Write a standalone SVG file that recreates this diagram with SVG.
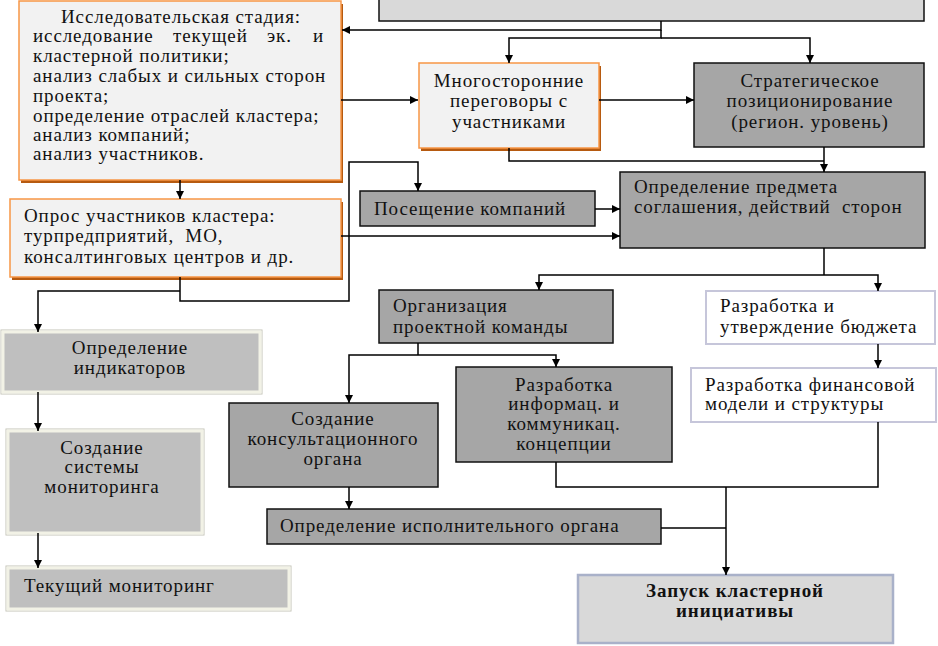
<svg xmlns="http://www.w3.org/2000/svg" width="938" height="646" viewBox="0 0 938 646">
<style>
text{font-family:"Liberation Serif","Times New Roman",serif;font-size:19px;letter-spacing:0.9px;fill:#111}
.c{text-anchor:middle}
.b{font-weight:bold}
.pre{white-space:pre}
.dark{fill:#a6a6a6;stroke:#111;stroke-width:1.5}
.orange{fill:#f2f2f2;stroke:#f79646;stroke-width:1.5}
.oshadow{fill:#b65a10}
.light{fill:#bfbfbf;stroke:#f2f2e6;stroke-width:3}
.lightout{fill:none;stroke:#c4c4b8;stroke-width:1}
.white{fill:#fff;stroke:#c6c6da;stroke-width:2}
.conn path{fill:none;stroke:#000;stroke-width:1.5}
</style>
<defs>
<marker id="ah" viewBox="0 0 10 10" refX="10" refY="5" markerWidth="8" markerHeight="8" markerUnits="userSpaceOnUse" orient="auto">
<path d="M0,0 L10,5 L0,10 z" fill="#000"/>
</marker>
</defs>
<rect width="938" height="646" fill="#fff"/>

<g id="top"><rect x="379" y="-5" width="545" height="26" fill="#d9d9d9" stroke="#111" stroke-width="1.5"/></g>

<g id="research">
<rect class="oshadow" x="21" y="4" width="322" height="179"/>
<rect class="orange" x="19" y="1" width="322" height="179"/>
<text class="c" x="181" y="23">Исследовательская стадия:</text>
<text y="42"><tspan x="33">исследование</tspan><tspan x="173">текущей</tspan><tspan x="267">эк.</tspan><tspan x="313">и</tspan></text>
<text x="33" y="62">кластерной политики;</text>
<text x="33" y="82">анализ слабых и сильных сторон</text>
<text x="33" y="102">проекта;</text>
<text x="33" y="122">определение отраслей кластера;</text>
<text x="33" y="141">анализ компаний;</text>
<text x="33" y="160">анализ участников.</text>
</g>

<g id="negotiations">
<rect class="oshadow" x="421" y="66" width="180" height="85"/>
<rect class="orange" x="419" y="63" width="180" height="85"/>
<text class="c" x="509" y="87">Многосторонние</text>
<text class="c" x="509" y="107">переговоры с</text>
<text class="c" x="509" y="128">участниками</text>
</g>

<g id="strategic">
<rect class="dark" x="694" y="63" width="230" height="84"/>
<text class="c" x="810" y="87">Стратегическое</text>
<text class="c" x="810" y="107">позиционирование</text>
<text class="c" x="810" y="128">(регион. уровень)</text>
</g>

<g id="survey">
<rect class="oshadow" x="12" y="202" width="331" height="78"/>
<rect class="orange" x="10" y="199" width="331" height="78"/>
<text x="24" y="222">Опрос участников кластера:</text>
<text class="pre" xml:space="preserve" x="24" y="242">турпредприятий,  МО,</text>
<text x="24" y="263">консалтинговых центров и др.</text>
</g>

<g id="visit">
<rect class="dark" x="360" y="191" width="235" height="35"/>
<text x="374" y="215">Посещение компаний</text>
</g>

<g id="subject">
<rect class="dark" x="620" y="172" width="305" height="76"/>
<text x="634" y="193">Определение предмета</text>
<text class="pre" xml:space="preserve" x="634" y="213">соглашения, действий  сторон</text>
</g>

<g id="team">
<rect class="dark" x="379" y="290" width="234" height="53"/>
<text x="393" y="312">Организация</text>
<text x="393" y="333">проектной команды</text>
</g>

<g id="budget">
<rect class="white" x="706" y="291" width="229" height="53"/>
<text x="720" y="312">Разработка и</text>
<text x="720" y="333">утверждение бюджета</text>
</g>

<g id="finmodel">
<rect class="white" x="691" y="368" width="245" height="54"/>
<text x="705" y="391">Разработка финансовой</text>
<text x="705" y="410">модели и структуры</text>
</g>

<g id="indicators">
<rect class="lightout" x="1" y="330" width="261" height="64"/>
<rect class="light" x="3" y="332" width="257" height="60"/>
<text class="c" x="130" y="354">Определение</text>
<text class="c" x="130" y="374">индикаторов</text>
</g>

<g id="monsystem">
<rect class="lightout" x="6" y="429" width="198" height="106"/>
<rect class="light" x="8" y="431" width="194" height="102"/>
<text class="c" x="102" y="454">Создание</text>
<text class="c" x="102" y="473">системы</text>
<text class="c" x="102" y="493">мониторинга</text>
</g>

<g id="current">
<rect class="lightout" x="6" y="566" width="285" height="45"/>
<rect class="light" x="8" y="568" width="281" height="41"/>
<text x="24" y="592">Текущий мониторинг</text>
</g>

<g id="consult">
<rect class="dark" x="229" y="403" width="209" height="84"/>
<text class="c" x="333" y="425">Создание</text>
<text class="c" x="333" y="445">консультационного</text>
<text class="c" x="333" y="465">органа</text>
</g>

<g id="infocomm">
<rect class="dark" x="456" y="367" width="216" height="95"/>
<text class="c" x="564" y="391">Разработка</text>
<text class="c" x="564" y="410">информац. и</text>
<text class="c" x="564" y="430">коммуникац.</text>
<text class="c" x="564" y="450">концепции</text>
</g>

<g id="executive">
<rect class="dark" x="267" y="509" width="394" height="35"/>
<text x="280" y="532">Определение исполнительного органа</text>
</g>

<g id="launch">
<rect x="578" y="575" width="315" height="68" fill="#d9d9d9" stroke="#a9b1c9" stroke-width="2.5"/>
<text class="c b" x="735" y="597">Запуск кластерной</text>
<text class="c b" x="735" y="617">инициативы</text>
</g>

<g class="conn" id="connectors">
<path d="M661,21 V30 H342" marker-end="url(#ah)"/>
<path d="M661,30 V38 H509 V63" marker-end="url(#ah)"/>
<path d="M661,38 H810 V63" marker-end="url(#ah)"/>
<path d="M341,100 H418" marker-end="url(#ah)"/>
<path d="M599,100 H694" marker-end="url(#ah)"/>
<path d="M509,148 V161 H824"/>
<path d="M824,147 V172" marker-end="url(#ah)"/>
<path d="M180,180 V199" marker-end="url(#ah)"/>
<path d="M341,236 H620" marker-end="url(#ah)"/>
<path d="M180,277 V301 H349 V162 H418 V191" marker-end="url(#ah)"/>
<path d="M180,291 H38 V332" marker-end="url(#ah)"/>
<path d="M595,209 H620" marker-end="url(#ah)"/>
<path d="M824,248 V275"/>
<path d="M824,275 H539 V290" marker-end="url(#ah)"/>
<path d="M824,275 H878 V291" marker-end="url(#ah)"/>
<path d="M878,344 V368" marker-end="url(#ah)"/>
<path d="M418,343 V355"/>
<path d="M418,355 H349 V403" marker-end="url(#ah)"/>
<path d="M418,355 H556 V367" marker-end="url(#ah)"/>
<path d="M38,392 V431" marker-end="url(#ah)"/>
<path d="M38,533 V568" marker-end="url(#ah)"/>
<path d="M349,487 V509" marker-end="url(#ah)"/>
<path d="M556,462 V487 H878 V422"/>
<path d="M726,487 V575" marker-end="url(#ah)"/>
<path d="M661,528 H726"/>
</g>
</svg>
